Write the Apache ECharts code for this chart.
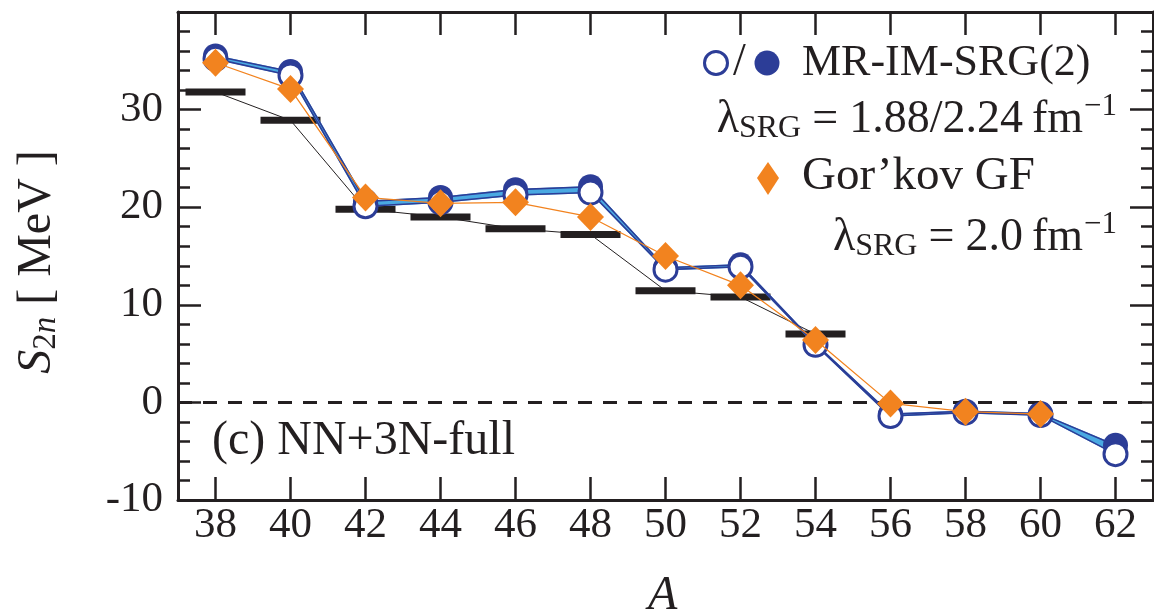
<!DOCTYPE html>
<html>
<head>
<meta charset="utf-8">
<script src="https://cdn.jsdelivr.net/npm/echarts@6/dist/echarts.min.js"></script>
<style>
html,body{margin:0;padding:0;background:#fff;}
#chart{width:1154px;height:609px;}
</style>
</head>
<body>
<div id="chart"></div>
<script>
// ---- data ----
const massNumbers = [38, 40, 42, 44, 46, 48, 50, 52, 54, 56, 58, 60, 62];
const mrImSrgOpen = [35.2, 33.5, 20.1, 20.5, 21.25, 21.5, 13.6, 13.9, 5.9, -1.4, -1.05, -1.3, -5.3];   // lambda = 1.88
const mrImSrgFilled = [35.5, 33.9, 20.6, 21.0, 21.8, 22.1, 13.8, 14.1, 6.0, -1.2, -0.9, -1.15, -4.4]; // lambda = 2.24
const gorkovA = [38, 40, 42, 44, 46, 48, 50, 52, 54, 56, 58, 60];
const gorkovGF = [34.8, 32.1, 21.0, 20.4, 20.5, 19.0, 15.0, 12.0, 6.4, -0.1, -0.95, -1.2];
const expA = [38, 40, 42, 44, 46, 48, 50, 52, 54];
const expS2n = [31.8, 28.9, 19.8, 19.0, 17.8, 17.2, 11.45, 10.8, 7.0];
const xTickValues = [38, 40, 42, 44, 46, 48, 50, 52, 54, 56, 58, 60, 62];
const yTickValues = [-10, 0, 10, 20, 30, 40];

const FONT = '"Liberation Serif", "Times New Roman", Times, "DejaVu Serif", serif';
const DARK = '#2c3d97';
const LIGHT = '#4aa9e2';
const ORANGE = '#f2831f';
const INK = '#231f20';

const pair = (xsArr, ysArr) => xsArr.map((x, i) => [x, ysArr[i]]);
// band segments between the two MR-IM-SRG curves
const bandSegments = massNumbers.slice(0, -1).map((x, i) => [
  x, massNumbers[i + 1], mrImSrgOpen[i], mrImSrgOpen[i + 1], mrImSrgFilled[i], mrImSrgFilled[i + 1]
]);

// text measuring for composite legend / titles
const mctx = document.createElement('canvas').getContext('2d');
function tw(p) {
  mctx.font = (p.italic ? 'italic ' : '') + p.size + 'px ' + FONT;
  return mctx.measureText(p.t).width + (p.pad || 0);
}
function textEl(p, x, y) {
  return {
    type: 'text', x: x, y: y, z: 100,
    style: {
      text: p.t, fontFamily: FONT, fontSize: p.size, fontStyle: p.italic ? 'italic' : 'normal',
      fill: INK, align: 'left', verticalAlign: 'middle'
    }
  };
}
function richLine(pieces, xStart, yc) {
  const els = [];
  let x = xStart;
  pieces.forEach(p => { els.push(textEl(p, x, yc + (p.dy || 0))); x += tw(p); });
  return els;
}
function richLineRight(pieces, xRight, yc) {
  let total = 0; pieces.forEach(p => total += tw(p));
  return richLine(pieces, xRight - total, yc);
}

const graphics = [];
// legend line 1
graphics.push({ type: 'circle', shape: { cx: 716, cy: 63, r: 11.5 }, style: { fill: '#fff', stroke: DARK, lineWidth: 3 }, z: 100 });
graphics.push(textEl({ t: '/', size: 46 }, 733, 63));
graphics.push({ type: 'circle', shape: { cx: 767, cy: 63, r: 12.5 }, style: { fill: DARK }, z: 100 });
graphics.push(...richLine([{ t: 'MR-IM-SRG(2)', size: 44 }], 802, 63));
// legend line 2
graphics.push(...richLineRight([
  { t: 'λ', size: 46 },
  { t: 'SRG', size: 32, dy: 9, pad: 11 },
  { t: '=', size: 46, pad: 11 },
  { t: '1.88/2.24', size: 46, pad: 9 },
  { t: 'fm', size: 46, pad: 1 },
  { t: '−1', size: 31, dy: -13 }
], 1117, 120));
// legend line 3
graphics.push({ type: 'polygon', shape: { points: [[768, 162], [779, 178], [768, 195], [757, 178]] }, style: { fill: ORANGE }, z: 100 });
graphics.push(...richLine([{ t: 'Gor’kov GF', size: 47 }], 802, 177));
// legend line 4
graphics.push(...richLineRight([
  { t: 'λ', size: 46 },
  { t: 'SRG', size: 32, dy: 9, pad: 11 },
  { t: '=', size: 46, pad: 11 },
  { t: '2.0', size: 46, pad: 9 },
  { t: 'fm', size: 46, pad: 1 },
  { t: '−1', size: 31, dy: -13 }
], 1117, 238));
// panel label
graphics.push(...richLine([{ t: '(c) NN+3N-full', size: 48 }], 212, 441));
// x axis title
graphics.push(textEl({ t: 'A', size: 48, italic: true }, 648, 596));
// y axis title (rotated)
(function () {
  const pieces = [
    { t: 'S', size: 48, italic: true },
    { t: '2', size: 33, dy: 9 },
    { t: 'n', size: 33, italic: true, dy: 9 },
    { t: ' [ MeV ]', size: 48 }
  ];
  let total = 0; pieces.forEach(p => total += tw(p));
  const children = richLine(pieces, -total / 2, 0);
  graphics.push({ type: 'group', x: 37, y: 262, rotation: Math.PI / 2, children: children });
})();

const frameLine = { show: true, onZero: false, lineStyle: { color: INK, width: 3 } };
const tickStyle = { color: INK, width: 2.5 };

const option = {
  animation: false,
  backgroundColor: '#fff',
  grid: { left: 178, right: 1, top: 12, bottom: 109, containLabel: false },
  xAxis: [
    {
      type: 'value', min: 37, max: 63, position: 'bottom',
      axisLine: frameLine,
      axisTick: { show: true, inside: true, length: 23, lineStyle: tickStyle, customValues: xTickValues },
      axisLabel: { show: true, customValues: xTickValues, margin: 4, fontFamily: FONT, fontSize: 43, color: INK },
      splitLine: { show: false }
    },
    {
      type: 'value', min: 37, max: 63, position: 'top',
      axisLine: frameLine,
      axisTick: { show: true, inside: true, length: 23, lineStyle: tickStyle, customValues: xTickValues },
      axisLabel: { show: false },
      splitLine: { show: false }
    }
  ],
  yAxis: [
    {
      type: 'value', min: -10, max: 40, interval: 10, position: 'left',
      axisLine: frameLine,
      axisTick: { show: true, inside: true, length: 23, lineStyle: tickStyle },
      minorTick: { show: true, splitNumber: 5, length: 12, lineStyle: tickStyle },
      axisLabel: {
        show: true, margin: 15, fontFamily: FONT, fontSize: 43, color: INK,
        formatter: v => (v >= 40 ? '' : String(v))
      },
      splitLine: { show: false }
    },
    {
      type: 'value', min: -10, max: 40, interval: 10, position: 'right',
      axisLine: frameLine,
      axisTick: { show: true, inside: true, length: 23, lineStyle: tickStyle },
      minorTick: { show: true, splitNumber: 5, length: 12, lineStyle: tickStyle },
      axisLabel: { show: false },
      splitLine: { show: false }
    }
  ],
  series: [
    {
      name: 'exp-line', type: 'line', data: pair(expA, expS2n), z: 1,
      symbol: 'none', lineStyle: { color: INK, width: 1 },
      markLine: {
        silent: true, symbol: 'none', label: { show: false },
        lineStyle: { color: INK, width: 3, type: [14, 11] },
        data: [{ yAxis: 0 }]
      }
    },
    {
      name: 'exp', type: 'scatter', data: pair(expA, expS2n), z: 2,
      symbol: 'rect', symbolSize: [60, 7], itemStyle: { color: INK, opacity: 1 }
    },
    {
      name: 'band', type: 'custom', z: 3, data: bandSegments,
      encode: { x: [0, 1], y: [2, 3, 4, 5] },
      renderItem: function (params, api) {
        const p1 = api.coord([api.value(0), api.value(2)]);
        const p2 = api.coord([api.value(1), api.value(3)]);
        const p3 = api.coord([api.value(1), api.value(5)]);
        const p4 = api.coord([api.value(0), api.value(4)]);
        return { type: 'polygon', shape: { points: [p1, p2, p3, p4] }, style: { fill: LIGHT, stroke: LIGHT, lineWidth: 1.5 } };
      }
    },
    {
      name: 'MR-IM-SRG 2.24', type: 'line', data: pair(massNumbers, mrImSrgFilled), z: 4,
      symbol: 'circle', symbolSize: 25, showSymbol: true,
      lineStyle: { color: DARK, width: 1.6 },
      itemStyle: { color: DARK }
    },
    {
      name: 'MR-IM-SRG 1.88', type: 'line', data: pair(massNumbers, mrImSrgOpen), z: 5,
      symbol: 'circle', symbolSize: 23, showSymbol: true,
      lineStyle: { color: DARK, width: 1.6 },
      itemStyle: { color: '#fff', borderColor: DARK, borderWidth: 3 }
    },
    {
      name: 'Gorkov GF', type: 'line', data: pair(gorkovA, gorkovGF), z: 6,
      symbol: 'diamond', symbolSize: [27, 28], showSymbol: true,
      lineStyle: { color: ORANGE, width: 1.3 },
      itemStyle: { color: ORANGE }
    }
  ],
  graphic: graphics
};

const chart = echarts.init(document.getElementById('chart'), null, { renderer: 'canvas' });
chart.setOption(option);
</script>
</body>
</html>
